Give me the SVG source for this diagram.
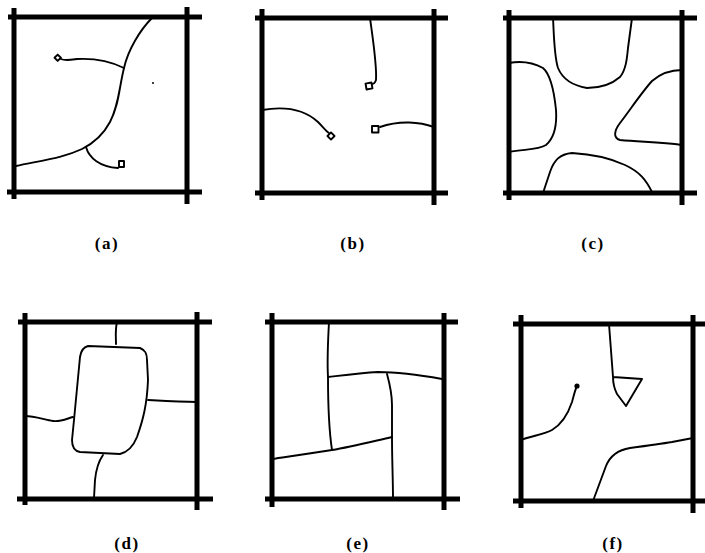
<svg xmlns="http://www.w3.org/2000/svg" width="705" height="553" viewBox="0 0 705 553">
<style>
.bar{stroke:#000;stroke-width:5;fill:none;stroke-linecap:butt}
.ln{stroke:#000;stroke-width:1.9;fill:none;stroke-linecap:round;stroke-linejoin:round}
.lbl{font-family:"Liberation Serif","Times New Roman",serif;font-size:17px;font-weight:bold;fill:#000;text-anchor:middle;letter-spacing:1.5px}
</style>
<rect width="705" height="553" fill="#fff"/>

<g id="panel-a">
  <g class="frame">
    <line class="bar" x1="8" y1="17" x2="202" y2="17"/>
    <line class="bar" x1="7" y1="192" x2="202" y2="192"/>
    <line class="bar" x1="14" y1="8" x2="14" y2="199"/>
    <line class="bar" x1="187" y1="7" x2="187" y2="204"/>
  </g>
  <path class="ln" d="M152,18 C140,30 128,50 124,68 C119,88 119,105 110,122 C102,137 92,144 82,149 C65,157 50,159 16,166"/>
  <path class="ln" d="M124,68 C112,62 97,58 77,59 C70,60 65,61 61,59"/>
  <rect class="ln" x="55.5" y="55.5" width="4.5" height="4.5" transform="rotate(45 57.7 57.7)"/>
  <path class="ln" d="M86,147 C89,158 100,167 118,168"/>
  <rect class="ln" x="119" y="161" width="5" height="6"/>
  <circle cx="153" cy="83" r="1" fill="#000"/>
  <text class="lbl" x="107" y="249">(a)</text>
</g>

<g id="panel-b">
  <g class="frame">
    <line class="bar" x1="255" y1="18" x2="448" y2="18"/>
    <line class="bar" x1="255" y1="193" x2="448" y2="193"/>
    <line class="bar" x1="262" y1="9" x2="262" y2="200"/>
    <line class="bar" x1="434" y1="9" x2="434" y2="205"/>
  </g>
  <path class="ln" d="M370,18 C373,40 377,65 376,80 C375,83 373,84 372,84"/>
  <rect class="ln" x="366" y="83" width="6" height="6" transform="rotate(-10 369 86)"/>
  <path class="ln" d="M262,110 C285,106 305,110 318,122 C323,127 326,131 329,133"/>
  <rect class="ln" x="328.5" y="133.5" width="5" height="5" transform="rotate(45 331 136)"/>
  <path class="ln" d="M434,127 C420,122 400,120 380,127"/>
  <rect class="ln" x="372" y="126" width="6.5" height="6.5"/>
  <text class="lbl" x="353" y="249">(b)</text>
</g>

<g id="panel-c">
  <g class="frame">
    <line class="bar" x1="503" y1="18" x2="697" y2="18"/>
    <line class="bar" x1="503" y1="193" x2="697" y2="193"/>
    <line class="bar" x1="509" y1="10" x2="509" y2="200"/>
    <line class="bar" x1="682" y1="10" x2="682" y2="205"/>
  </g>
  <path class="ln" d="M553,18 C554,35 554,55 558,68 C563,80 575,86 587,88 C600,88 612,84 620,77 C626,70 627,58 628,48 L632,18"/>
  <path class="ln" d="M509,63 C520,61 532,62 543,68 C550,74 554,90 556,110 C557,125 554,138 546,145 C538,150 525,149 509,152"/>
  <path class="ln" d="M682,70 C670,70 660,74 652,81 C642,92 630,110 620,123 C614,131 613,138 620,140 C640,142 660,142 682,145"/>
  <path class="ln" d="M543,193 L550,172 C554,160 560,154 572,153 C590,154 610,158 625,165 C640,172 646,180 652,192"/>
  <text class="lbl" x="593" y="249">(c)</text>
</g>

<g id="panel-d">
  <g class="frame">
    <line class="bar" x1="18" y1="322" x2="212" y2="322"/>
    <line class="bar" x1="17" y1="499" x2="213" y2="499"/>
    <line class="bar" x1="25" y1="313" x2="25" y2="505"/>
    <line class="bar" x1="197" y1="312" x2="197" y2="510"/>
  </g>
  <path class="ln" d="M117,322 C115,330 116,337 116,344"/>
  <path class="ln" d="M88,346 L140,348 C145,350 147,353 147,360 L148,380 C147,405 143,420 137,437 C133,447 128,452 120,454 L80,452 C74,451 72,447 72,440 L74,420 L80,357 C81,350 84,347 88,346 Z"/>
  <path class="ln" d="M25,416 C35,416 45,420 53,421 C60,422 66,419 73,417"/>
  <path class="ln" d="M148,400 C165,401 180,402 197,402"/>
  <path class="ln" d="M103,455 C98,462 96,470 95,480 L94,498"/>
  <text class="lbl" x="127" y="549">(d)</text>
</g>

<g id="panel-e">
  <g class="frame">
    <line class="bar" x1="265" y1="322" x2="458" y2="322"/>
    <line class="bar" x1="265" y1="499" x2="460" y2="499"/>
    <line class="bar" x1="272" y1="313" x2="272" y2="507"/>
    <line class="bar" x1="444" y1="313" x2="444" y2="510"/>
  </g>
  <path class="ln" d="M329,322 C328,340 327,360 328,377 C328,400 329,430 332,450"/>
  <path class="ln" d="M328,377 C345,375 360,373 378,372 C400,372 420,375 442,379"/>
  <path class="ln" d="M387,374 C390,385 392,395 392,405 L392,437 C392,460 393,480 393,498"/>
  <path class="ln" d="M272,459 C285,457 300,455 332,450 C350,447 370,442 392,437"/>
  <text class="lbl" x="358" y="549">(e)</text>
</g>

<g id="panel-f">
  <g class="frame">
    <line class="bar" x1="513" y1="324" x2="705" y2="324"/>
    <line class="bar" x1="513" y1="501" x2="705" y2="501"/>
    <line class="bar" x1="521" y1="315" x2="521" y2="508"/>
    <line class="bar" x1="693" y1="315" x2="693" y2="513"/>
  </g>
  <path class="ln" d="M609,324 L613,377 L642,379 L626,406 L617,394 C614,388 613,383 613,377"/>
  <path class="ln" d="M521,440 C532,436 545,434 552,430 C562,424 568,414 572,402 C574,395 575,390 577,386"/>
  <circle cx="577" cy="386" r="2.6" fill="#000"/>
  <path class="ln" d="M593,501 L606,466 C610,456 618,450 630,448 C645,446 660,444 672,442 L693,438"/>
  <text class="lbl" x="613" y="549">(f)</text>
</g>
</svg>
